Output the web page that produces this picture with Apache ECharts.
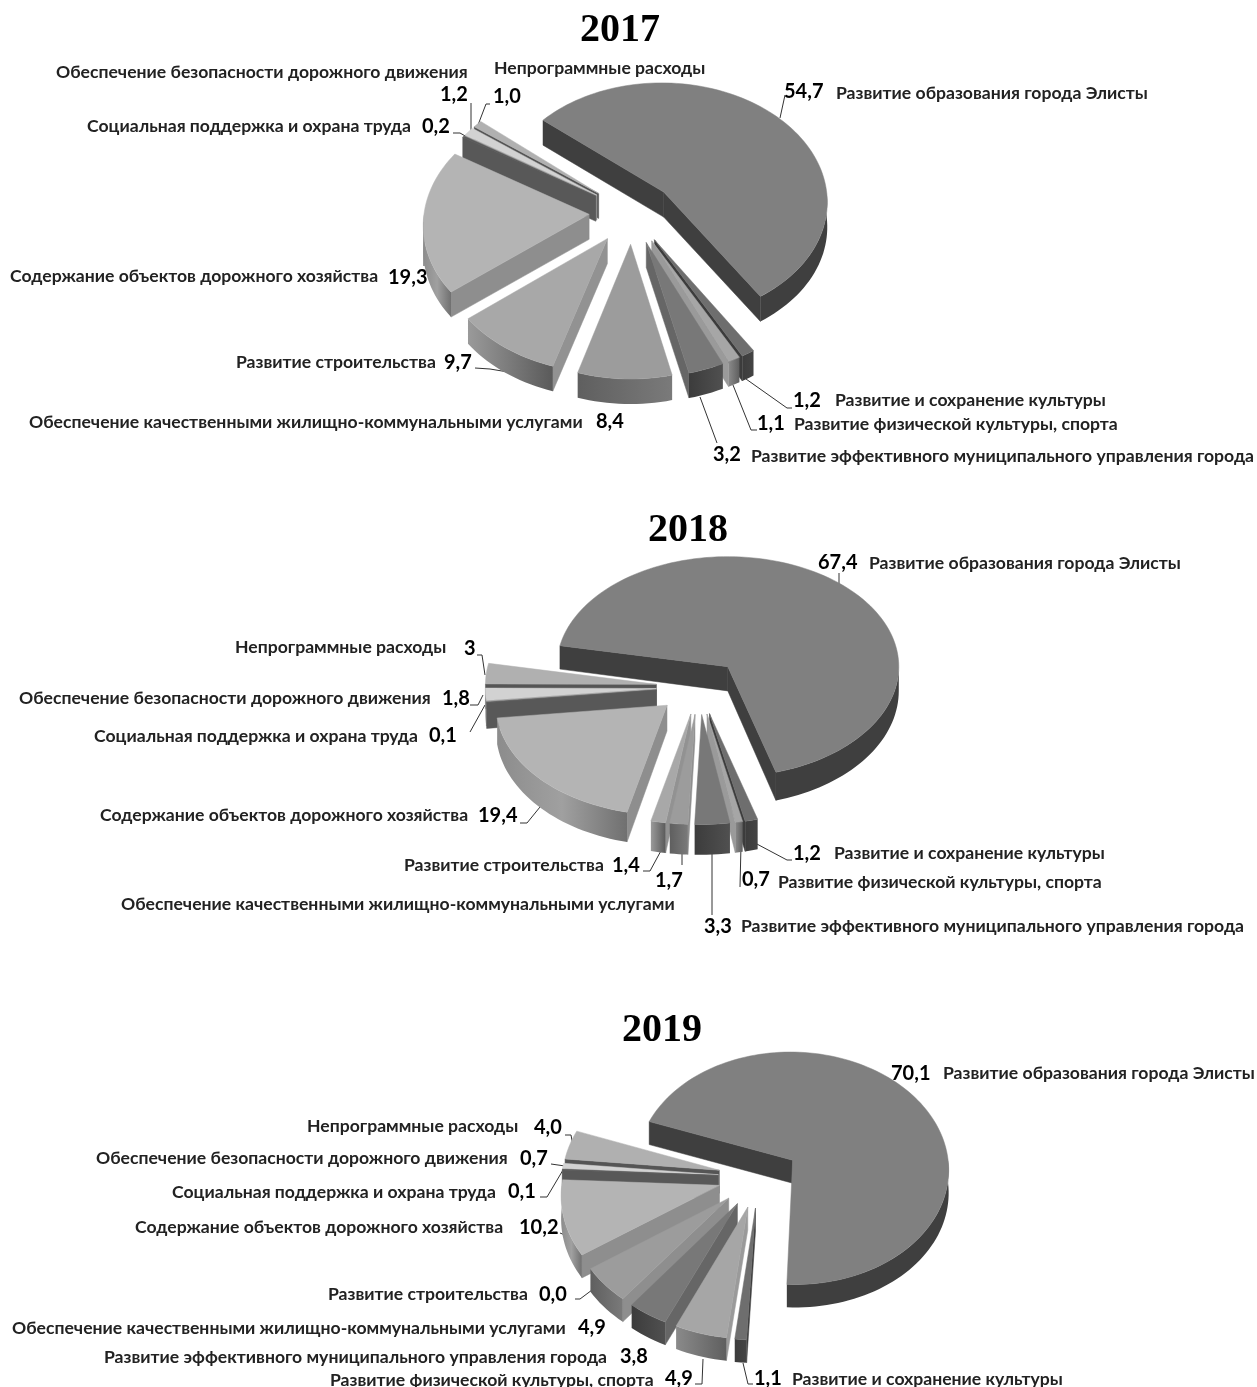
<!DOCTYPE html>
<html>
<head>
<meta charset="utf-8">
<style>
	html, body { margin: 0; padding: 0; background: #fff; }
	#chart { width: 1257px; height: 1387px; }
</style>
<script src="https://cdn.jsdelivr.net/npm/echarts@6/dist/echarts.min.js"></script>
</head>
<body>
<div id="chart"></div>
<script>
	var categories = [
		'Развитие образования города Элисты',
		'Развитие и сохранение культуры',
		'Развитие физической культуры, спорта',
		'Развитие эффективного муниципального управления города',
		'Обеспечение качественными жилищно-коммунальными услугами',
		'Развитие строительства',
		'Содержание объектов дорожного хозяйства',
		'Социальная поддержка и охрана труда',
		'Обеспечение безопасности дорожного движения',
		'Непрограммные расходы'
	];
	var years = ['2017', '2018', '2019'];
	var values2017 = [54.7, 1.2, 1.1, 3.2, 8.4, 9.7, 19.3, 0.2, 1.2, 1.0];
	var values2018 = [67.4, 1.2, 0.7, 3.3, 1.7, 1.4, 19.4, 0.1, 1.8, 3];
	var values2019 = [70.1, 1.1, 4.9, 3.8, 4.9, 0.0, 10.2, 0.1, 0.7, 4.0];
	var valueText2017 = ['54,7', '1,2', '1,1', '3,2', '8,4', '9,7', '19,3', '0,2', '1,2', '1,0'];
	var valueText2018 = ['67,4', '1,2', '0,7', '3,3', '1,7', '1,4', '19,4', '0,1', '1,8', '3'];
	var valueText2019 = ['70,1', '1,1', '4,9', '3,8', '4,9', '0,0', '10,2', '0,1', '0,7', '4,0'];

	// shades per category: top face, cut face, outer wall (left -> right)
	var sliceStyle = [
		{ top: '#808080', cut: '#3f3f3f', arc: ['#3f3f3f', '#3f3f3f'] },
		{ top: '#6e6e6e', cut: '#3c3c3c', arc: ['#3c3c3c', '#444444'] },
		{ top: '#a6a6a6', cut: '#9a9a9a', arc: ['#8a8a8a', '#5f5f5f'] },
		{ top: '#787878', cut: '#666666', arc: ['#3c3c3c', '#505050'] },
		{ top: '#9c9c9c', cut: '#8e8e8e', arc: ['#5f5f5f', '#7a7a7a'] },
		{ top: '#a8a8a8', cut: '#929292', arc: ['#9a9a9a', '#5a5a5a'] },
		{ top: '#b4b4b4', cut: '#8e8e8e', arc: ['#8c8c8c', '#a0a0a0', '#707070'] },
		{ top: '#5a5a5a', cut: '#585858', arc: ['#585858', '#585858'] },
		{ top: '#d2d2d2', cut: '#9a9a9a', arc: ['#9a9a9a', '#9a9a9a'] },
		{ top: '#b0b0b0', cut: '#555555', arc: ['#8a8a8a', '#8a8a8a'] }
	];

	// projection of each flattened pie
	var pies = [
		{ values: values2017, text: valueText2017, cx: 632, cy: 212.5, rx: 165, ry: 120, p: 0.073, e: 0.26, h: 25, q: 0, start: 310 },
		{ values: values2018, text: valueText2018, cx: 699, cy: 687, rx: 171, ry: 110, p: 0, e: 0.25, h: 25, q: 0.17, start: 281 },
		{ values: values2019, text: valueText2019, cx: 759, cy: 1177, rx: 157, ry: 118, p: 0.07, e: 0.26, h: 23, q: 0, start: 290 }
	];

	var titlePos = [[620, 31], [688, 531], [662, 1031]];

	// label layout, same order as categories: name x,y / value x,y / leader line
	var layout2017 = [
		{ n: [836, 93], v: [784, 92], l: [[780, 118], [785, 95]] },
		{ n: [835, 400], v: [793, 401], l: [[746, 379], [787, 408], [792, 408]] },
		{ n: [794, 424], v: [757, 424], l: [[733, 385], [751, 430], [757, 430]] },
		{ n: [751, 456], v: [713, 455], l: [[700, 397], [717, 443]] },
		{ n: [29, 422], v: [596, 422], l: null },
		{ n: [236, 362], v: [444, 363], l: [[475, 368], [490, 369], [508, 372]] },
		{ n: [10, 276], v: [388, 278], l: [[424, 222], [424, 266]] },
		{ n: [87, 126], v: [422, 127], l: [[453, 133], [460, 133], [467, 137]] },
		{ n: [56, 72], v: [440, 95], l: [[471, 103], [471, 131]] },
		{ n: [494, 68], v: [493, 97], l: [[490, 104], [486, 104], [478, 125]] }
	];
	var layout2018 = [
		{ n: [869, 563], v: [818, 563], l: [[839, 573], [839, 585]] },
		{ n: [834, 853], v: [793, 854], l: [[755, 843], [787, 860], [792, 860]] },
		{ n: [778, 882], v: [742, 880], l: [[741, 845], [740, 887]] },
		{ n: [741, 926], v: [704, 927], l: [[712, 848], [712, 915]] },
		{ n: [121, 904], v: [655, 881], l: [[682, 848], [682, 865]] },
		{ n: [404, 865], v: [612, 866], l: [[643, 871], [650, 871], [663, 847]] },
		{ n: [100, 815], v: [478, 816], l: [[520, 823], [527, 823], [540, 807]] },
		{ n: [94, 736], v: [429, 736], l: [[470, 732], [485, 705]] },
		{ n: [19, 698], v: [442, 699], l: [[470, 705], [478, 705], [483, 695]] },
		{ n: [235, 647], v: [464, 649], l: [[477, 655], [482, 655], [485, 675]] }
	];
	var layout2019 = [
		{ n: [943, 1073], v: [891, 1074], l: null },
		{ n: [792, 1379], v: [754, 1379], l: [[743, 1363], [748, 1384], [753, 1384]] },
		{ n: [330, 1380], v: [665, 1379], l: [[695, 1384], [702, 1384], [703, 1359]] },
		{ n: [104, 1357], v: [620, 1357], l: null },
		{ n: [12, 1328], v: [578, 1328], l: null },
		{ n: [328, 1294], v: [539, 1295], l: [[575, 1299], [580, 1299], [592, 1290]] },
		{ n: [135, 1227], v: [519, 1228], l: [[560, 1233], [565, 1235], [570, 1243]] },
		{ n: [172, 1192], v: [508, 1192], l: [[540, 1197], [547, 1197], [563, 1170]] },
		{ n: [96, 1158], v: [520, 1159], l: [[551, 1164], [565, 1166]] },
		{ n: [307, 1126], v: [534, 1128], l: [[565, 1135], [571, 1135], [573, 1146]] }
	];
	var layouts = [layout2017, layout2018, layout2019];

	var RAD = Math.PI / 180;

	function dir(a) {
		return [Math.sin(a * RAD), -Math.cos(a * RAD)];
	}

	function project(pie, u, v) {
		var s = 1 / (1 - pie.p * v);
		return [pie.cx + pie.rx * u * s, pie.cy + pie.ry * v * s];
	}

	// angles and explode offset of every slice in the pie
	function buildSlices(pie) {
		var total = 0, i;
		for (i = 0; i < pie.values.length; i++) total += pie.values[i];
		var a = pie.start, res = [];
		for (i = 0; i < pie.values.length; i++) {
			var span = pie.values[i] / total * 360;
			var d = dir(a + span / 2);
			res.push({ index: i, a0: a, a1: a + span, ox: d[0] * pie.e, oy: d[1] * pie.e, mid: d[1] });
			a += span;
		}
		return res;
	}

	function drop(pie, v) {
		return pie.h * (1 + pie.q * v);
	}

	function wall(pie, pts) {
		// pts are plane points, extruded downward
		var top = [], bottom = [];
		pts.forEach(function (p) {
			var s = project(pie, p[0], p[1]);
			top.push(s);
			bottom.unshift([s[0], s[1] + drop(pie, p[1])]);
		});
		return top.concat(bottom);
	}

	function poly(points, fill) {
		return {
			type: 'polygon',
			shape: { points: points },
			style: { fill: fill, stroke: typeof fill === 'string' ? fill : null, lineWidth: typeof fill === 'string' ? 0.5 : 0 }
		};
	}

	function arcPts(s, from, to) {
		var pts = [], n = Math.max(1, Math.ceil((to - from) / 2));
		for (var k = 0; k <= n; k++) {
			var d = dir(from + (to - from) * k / n);
			pts.push([s.ox + d[0], s.oy + d[1]]);
		}
		return pts;
	}

	function sliceShapes(pie, s) {
		var st = sliceStyle[s.index], children = [];
		var apex = [s.ox, s.oy];
		var d0 = dir(s.a0), d1 = dir(s.a1);
		// cut faces that look at the viewer
		if (d0[0] < 0) children.push(poly(wall(pie, [apex, [s.ox + d0[0], s.oy + d0[1]]]), st.cut));
		if (d1[0] > 0) children.push(poly(wall(pie, [apex, [s.ox + d1[0], s.oy + d1[1]]]), st.cut));
		// outer wall, only the part between 90 and 270 degrees faces front
		[90, 450].forEach(function (base) {
			var from = Math.max(s.a0, base), to = Math.min(s.a1, base + 180);
			if (to <= from) return;
			children.push(poly(wall(pie, arcPts(s, from, to)), new echarts.graphic.LinearGradient(0, 0, 1, 0, st.arc.map(function (c, k) {
				return { offset: k / (st.arc.length - 1), color: c };
			}))));
		});
		// top face
		var top = [project(pie, apex[0], apex[1])];
		arcPts(s, s.a0, s.a1).forEach(function (p) {
			top.push(project(pie, p[0], p[1]));
		});
		children.push(poly(top, st.top));
		return { type: 'group', children: children };
	}

	var series = pies.map(function (pie) {
		var slices = buildSlices(pie).filter(function (s) {
			return pie.values[s.index] > 0;
		}).sort(function (a, b) {
			return a.mid - b.mid;
		});
		return {
			type: 'custom',
			coordinateSystem: 'none',
			silent: true,
			animation: false,
			data: slices.map(function (s) {
				return [s.index, pie.values[s.index]];
			}),
			renderItem: function (params) {
				return sliceShapes(pie, slices[params.dataIndex]);
			}
		};
	});

	var graphics = [];
	layouts.forEach(function (layout, y) {
		graphics.push({
			type: 'text', x: titlePos[y][0], y: titlePos[y][1], silent: true,
			style: { text: years[y], fill: '#000', font: 'bold 40px "Liberation Serif"', textAlign: 'center', textVerticalAlign: 'middle' }
		});
		layout.forEach(function (item, i) {
			graphics.push({
				type: 'text', x: item.n[0], y: item.n[1], silent: true,
				style: { text: categories[i], fill: '#222', font: 'bold 17.6px Lato', textAlign: 'left', textVerticalAlign: 'middle' }
			});
			graphics.push({
				type: 'text', x: item.v[0], y: item.v[1], silent: true,
				style: { text: pies[y].text[i], fill: '#000', font: 'bold 20px Lato', textAlign: 'left', textVerticalAlign: 'middle' }
			});
			if (item.l) {
				graphics.push({
					type: 'polyline', silent: true,
					shape: { points: item.l },
					style: { fill: null, stroke: '#333', lineWidth: 1 }
				});
			}
		});
	});

	var chart = echarts.init(document.getElementById('chart'));
	chart.setOption({
		backgroundColor: '#fff',
		animation: false,
		series: series,
		graphic: { elements: graphics }
	});
</script>
</body>
</html>
